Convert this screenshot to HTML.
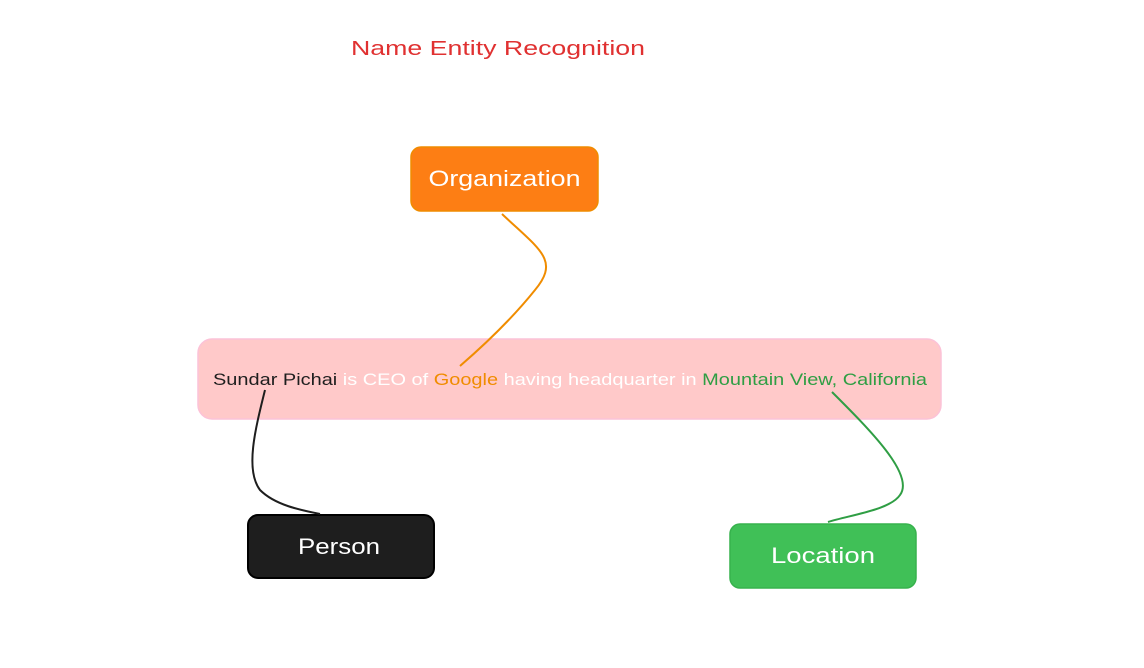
<!DOCTYPE html>
<html><head><meta charset="utf-8"><style>
html,body{margin:0;padding:0;background:#fff;width:1144px;height:668px;overflow:hidden}
svg text{font-family:"Liberation Sans",sans-serif}
</style></head><body>
<svg width="1144" height="668" viewBox="0 0 1144 668" xmlns="http://www.w3.org/2000/svg">
<text x="351" y="55" font-size="20" fill="#e03131" textLength="294" lengthAdjust="spacingAndGlyphs">Name Entity Recognition</text>
<rect x="411" y="147" width="187" height="64" rx="10" fill="#fd7e14" stroke="#f08c00" stroke-width="1.5"/>
<text x="504.5" y="186" font-size="22" fill="#fff" text-anchor="middle" textLength="152" lengthAdjust="spacingAndGlyphs">Organization</text>
<rect x="198" y="339" width="743" height="80" rx="14" fill="#ffc9c9" stroke="#fcc2d7" stroke-width="1.5"/>
<text y="385" font-size="17" textLength="714" lengthAdjust="spacingAndGlyphs" x="213"><tspan fill="#1e1e1e">Sundar Pichai</tspan><tspan fill="#fff"> is CEO of </tspan><tspan fill="#f08c00">Google</tspan><tspan fill="#fff">  having headquarter in </tspan><tspan fill="#2f9e44">Mountain View, California</tspan></text>
<rect x="248" y="515" width="186" height="63" rx="10" fill="#1e1e1e" stroke="#000" stroke-width="2"/>
<text x="339" y="554" font-size="22" fill="#fff" text-anchor="middle" textLength="82" lengthAdjust="spacingAndGlyphs">Person</text>
<rect x="730" y="524" width="186" height="64" rx="10" fill="#40c057" stroke="#37b24d" stroke-width="1.5"/>
<text x="823" y="563" font-size="22" fill="#fff" text-anchor="middle" textLength="104" lengthAdjust="spacingAndGlyphs">Location</text>
<path d="M502 214 C540 250 560 260 535 290 C515 315 490 340 460 366" fill="none" stroke="#f08c00" stroke-width="2"/>
<path d="M265 390 C255 430 245 470 260 490 C275 505 300 510 320 514" fill="none" stroke="#1e1e1e" stroke-width="2"/>
<path d="M832 392 C870 430 915 475 900 495 C890 510 850 515 828 522" fill="none" stroke="#2f9e44" stroke-width="2"/>
</svg>
</body></html>
